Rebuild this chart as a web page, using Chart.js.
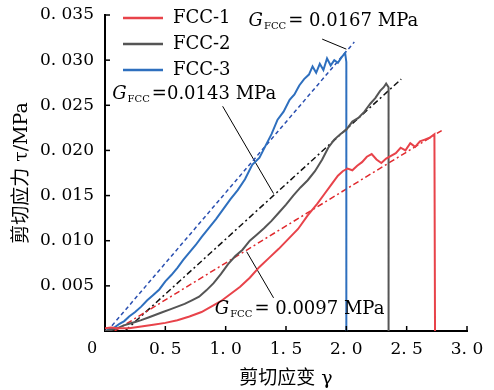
<!DOCTYPE html>
<html>
<head>
<meta charset="utf-8">
<script src="https://cdn.jsdelivr.net/npm/chart.js@4.4.0/dist/chart.umd.min.js"></script>
<style>
html, body { margin: 0; padding: 0; background: #fff; }
</style>
</head>
<body>
<canvas id="mycanvas" width="494" height="390"></canvas>
<script>
// series names and colours
var seriesNames = ['FCC-1', 'FCC-2', 'FCC-3'];

// FCC-1 (red)
var gamma1 = [0, 0.05, 0.10, 0.20, 0.30, 0.40, 0.50, 0.60, 0.70, 0.80, 0.88, 0.96, 1.04, 1.12, 1.20, 1.28, 1.36, 1.44, 1.52, 1.60, 1.68, 1.76, 1.82, 1.88, 1.93, 1.97, 2.01, 2.05, 2.09, 2.13, 2.17, 2.21, 2.25, 2.29, 2.33, 2.37, 2.41, 2.45, 2.49, 2.53, 2.57, 2.61, 2.65, 2.69, 2.73, 2.735];
var tau1 = [0.0003, 0.0004, 0.0003, 0.0003, 0.0005, 0.0007, 0.0009, 0.0012, 0.0016, 0.0021, 0.0027, 0.0033, 0.0041, 0.0049, 0.0059, 0.0071, 0.0081, 0.0091, 0.0102, 0.0113, 0.0128, 0.0141, 0.0152, 0.0163, 0.0172, 0.0177, 0.0180, 0.0178, 0.0183, 0.0187, 0.0193, 0.0196, 0.0190, 0.0186, 0.0191, 0.0194, 0.0197, 0.0203, 0.0200, 0.0208, 0.0204, 0.0210, 0.0212, 0.0214, 0.0218, 0];

// FCC-2 (grey)
var gamma2 = [0, 0.05, 0.10, 0.15, 0.20, 0.25, 0.30, 0.36, 0.42, 0.48, 0.54, 0.60, 0.66, 0.72, 0.78, 0.84, 0.90, 0.96, 1.02, 1.08, 1.14, 1.20, 1.26, 1.32, 1.38, 1.44, 1.50, 1.56, 1.62, 1.68, 1.74, 1.80, 1.85, 1.90, 1.95, 2.00, 2.05, 2.10, 2.15, 2.20, 2.24, 2.28, 2.31, 2.33, 2.35, 2.35];
var tau2 = [0, 0.0001, 0.0003, 0.0006, 0.0008, 0.0010, 0.0012, 0.0015, 0.0018, 0.0021, 0.0024, 0.0027, 0.0030, 0.0034, 0.0038, 0.0045, 0.0053, 0.0063, 0.0074, 0.0083, 0.0090, 0.0100, 0.0107, 0.0114, 0.0122, 0.0131, 0.0140, 0.0150, 0.0159, 0.0167, 0.0177, 0.0190, 0.0203, 0.0212, 0.0218, 0.0223, 0.0232, 0.0236, 0.0243, 0.0252, 0.0258, 0.0266, 0.0270, 0.0274, 0.0270, 0];

// FCC-3 (blue)
var gamma3 = [0, 0.04, 0.08, 0.12, 0.16, 0.20, 0.25, 0.30, 0.35, 0.40, 0.45, 0.50, 0.55, 0.60, 0.65, 0.70, 0.75, 0.80, 0.86, 0.92, 0.98, 1.04, 1.10, 1.16, 1.22, 1.28, 1.33, 1.38, 1.43, 1.48, 1.53, 1.57, 1.61, 1.65, 1.69, 1.72, 1.75, 1.78, 1.81, 1.84, 1.87, 1.90, 1.93, 1.96, 1.99, 2.00, 2.00];
var tau3 = [0, 0.0002, 0.0004, 0.0008, 0.0011, 0.0016, 0.0021, 0.0027, 0.0034, 0.0040, 0.0046, 0.0055, 0.0062, 0.0070, 0.0079, 0.0087, 0.0095, 0.0104, 0.0114, 0.0124, 0.0135, 0.0146, 0.0156, 0.0168, 0.0184, 0.0192, 0.0205, 0.0218, 0.0234, 0.0243, 0.0256, 0.0262, 0.0272, 0.0279, 0.0284, 0.0293, 0.0286, 0.0296, 0.0289, 0.0302, 0.0294, 0.0300, 0.0297, 0.0303, 0.0308, 0.0298, 0];

// fitted lines (shear modulus), two ends each
var fitGamma1 = [0.08, 2.79];
var fitTau1 = [0, 0.0222];
var fitGamma2 = [0.165, 2.455];
var fitTau2 = [0, 0.0279];
var fitGamma3 = [0.02, 2.066];
var fitTau3 = [0, 0.0320];

// annotation leader lines
var leadGamma = [[1.80, 2.00], [0.975, 1.397], [1.174, 1.397]];
var leadTau = [[0.03233, 0.03122], [0.02489, 0.01522], [0.00878, 0.00367]];

// annotation labels
var noteText = ['= 0.0167 MPa', '=0.0143 MPa', '= 0.0097 MPa'];
var noteGamma = [1.19, 0.06, 0.91];
var noteTau = [0.0343, 0.0262, 0.00244];

// axes
var xTicks = [0, 0.5, 1.0, 1.5, 2.0, 2.5, 3.0];
var yTicks = [0.005, 0.010, 0.015, 0.020, 0.025, 0.030, 0.035];

var serif = "'DejaVu Serif', 'Noto Sans CJK SC', serif";

function pts(gx, ty) {
	return gx.map(function(g, i) { return { x: g, y: ty[i] }; });
}

var datasets = [
	{ label: seriesNames[0], data: pts(gamma1, tau1), borderColor: '#e8434a', borderWidth: 2 },
	{ label: seriesNames[1], data: pts(gamma2, tau2), borderColor: '#555555', borderWidth: 2 },
	{ label: seriesNames[2], data: pts(gamma3, tau3), borderColor: '#2e6fbe', borderWidth: 2 },
	{ label: 'fit1', data: pts(fitGamma1, fitTau1), borderColor: '#e0282c', borderWidth: 1.5, borderDash: [6, 3, 2, 3] },
	{ label: 'fit2', data: pts(fitGamma2, fitTau2), borderColor: '#111111', borderWidth: 1.5, borderDash: [6, 3, 2, 3] },
	{ label: 'fit3', data: pts(fitGamma3, fitTau3), borderColor: '#2a4fb0', borderWidth: 1.5, borderDash: [4, 3] }
];
for (var k = 0; k < leadGamma.length; k++) {
	datasets.push({ label: 'lead' + k, data: pts(leadGamma[k], leadTau[k]), borderColor: '#000', borderWidth: 1 });
}

var extras = {
	id: 'extras',
	afterDraw: function(chart) {
		var ctx = chart.ctx;
		var xs = chart.scales.x, ys = chart.scales.y;
		ctx.save();
		// inward tick marks
		ctx.strokeStyle = '#000';
		ctx.lineWidth = 1.5;
		ys.ticks.forEach(function(t) {
			var py = ys.getPixelForValue(t.value);
			ctx.beginPath(); ctx.moveTo(xs.left, py); ctx.lineTo(xs.left + 5, py); ctx.stroke();
		});
		xs.ticks.forEach(function(t) {
			if (t.value === 0) return;
			var px = xs.getPixelForValue(t.value);
			ctx.beginPath(); ctx.moveTo(px, ys.bottom); ctx.lineTo(px, ys.bottom - 5); ctx.stroke();
		});
		// origin label
		ctx.fillStyle = '#000';
		ctx.font = '16px ' + serif;
		ctx.textAlign = 'center';
		ctx.textBaseline = 'middle';
		ctx.fillText('0', xs.left - 13, ys.bottom + 18);
		// legend
		ctx.textAlign = 'left';
		ctx.font = '18px ' + serif;
		for (var i = 0; i < 3; i++) {
			var ds = chart.data.datasets[i];
			var ly = 18 + i * 26;
			ctx.strokeStyle = ds.borderColor;
			ctx.lineWidth = 2.5;
			ctx.beginPath(); ctx.moveTo(123, ly); ctx.lineTo(163, ly); ctx.stroke();
			ctx.fillText(ds.label, 173, ly);
		}
		// modulus notes
		for (var j = 0; j < noteText.length; j++) {
			var x = xs.getPixelForValue(noteGamma[j]);
			var y = ys.getPixelForValue(noteTau[j]);
			ctx.font = 'italic 18px ' + serif;
			ctx.fillText('G', x, y);
			x += ctx.measureText('G').width + 1;
			ctx.font = '10px ' + serif;
			ctx.fillText('FCC', x, y + 5);
			x += ctx.measureText('FCC').width + 2;
			ctx.font = '18px ' + serif;
			ctx.fillText(noteText[j], x, y);
		}
		ctx.restore();
	}
};

var ctx = document.getElementById('mycanvas');
var chart = new Chart(ctx, {
	type: 'scatter',
	data: { datasets: datasets },
	options: {
		responsive: false,
		animation: false,
		showLine: true,
		elements: { point: { radius: 0 }, line: { tension: 0 } },
		layout: { padding: { top: 15, right: 27, left: 0, bottom: 0 } },
		plugins: { legend: { display: false }, tooltip: { enabled: false } },
		scales: {
			x: {
				type: 'linear', min: 0, max: 3.0,
				afterBuildTicks: function(s) { s.ticks = xTicks.map(function(v) { return { value: v }; }); },
				afterFit: function(s) { s.height = 59; },
				grid: { display: false },
				border: { color: '#000', width: 2 },
				ticks: {
					color: '#000', padding: 0, maxRotation: 0,
					font: { family: serif, size: 17 },
					callback: function(v) { return v === 0 ? '' : v.toFixed(1).replace('.', '. '); }
				},
				title: { display: true, text: '剪切应变 γ', color: '#000', font: { family: serif, size: 19 }, padding: { top: 0, bottom: 0 } }
			},
			y: {
				type: 'linear', min: 0, max: 0.035,
				afterBuildTicks: function(s) { s.ticks = yTicks.map(function(v) { return { value: v }; }); },
				afterFit: function(s) { s.width = 105; },
				grid: { display: false },
				border: { color: '#000', width: 2 },
				ticks: {
					color: '#000', padding: 3,
					font: { family: serif, size: 17 },
					callback: function(v) { return v.toFixed(3).replace('.', '. '); }
				},
				title: { display: true, text: '剪切应力 τ/MPa', color: '#000', font: { family: serif, size: 19 }, padding: { top: 11, bottom: 0 } }
			}
		}
	},
	plugins: [extras]
});
</script>
</body>
</html>
